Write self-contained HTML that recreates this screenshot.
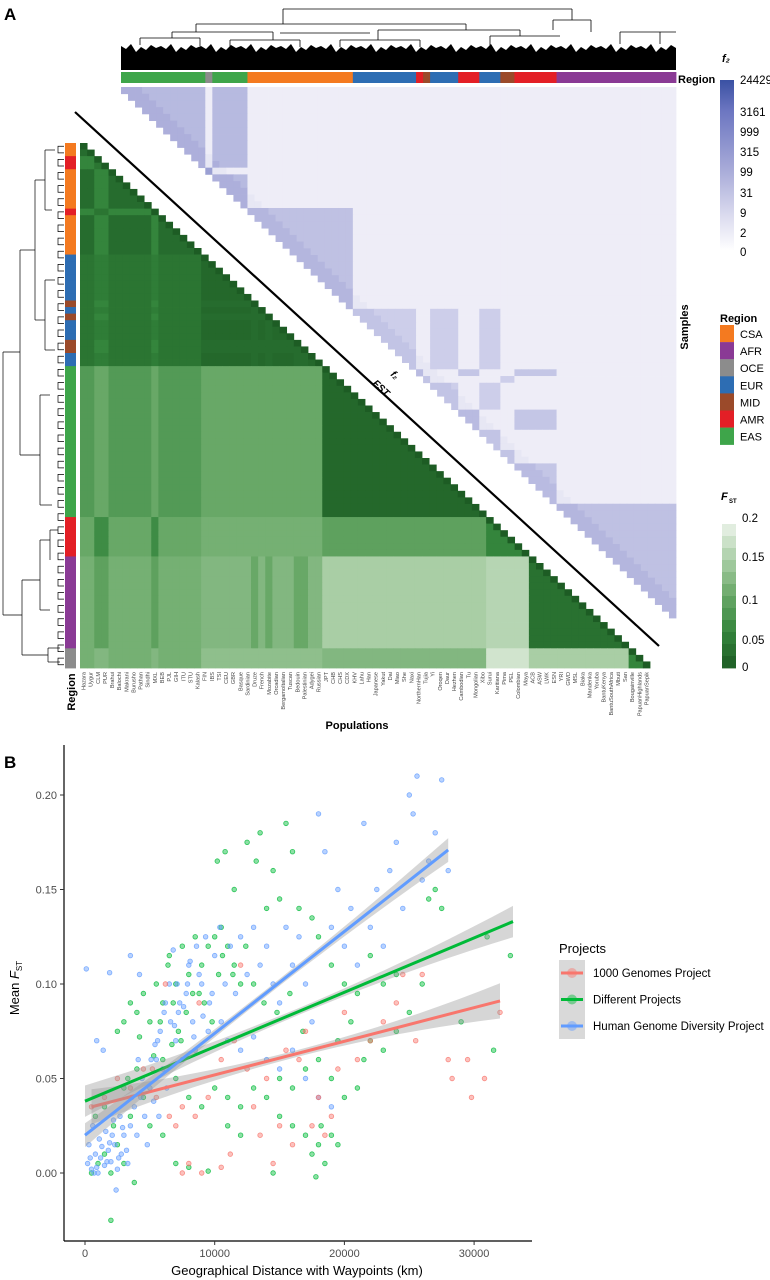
<!DOCTYPE html>
<html><head><meta charset="utf-8">
<style>
html,body{margin:0;padding:0;background:#fff;}
svg{display:block;font-family:"Liberation Sans",sans-serif;}
.nar{font-family:"Liberation Sans Narrow","Liberation Sans",sans-serif;}
</style></head>
<body>
<svg id="fig" width="770" height="1280" viewBox="0 0 770 1280">
<text x="4" y="20" font-size="17" font-weight="bold">A</text>
<text x="4" y="768" font-size="17" font-weight="bold">B</text>
<g id="gA"></g>
<g id="gB"></g>
</svg>
<script>
// ---------- Panel A data ----------
const pops=["Hazara","Uygur","CLM","PUR","Brahui","Balochi","Makrani","Burusho","Pathan","Sindhi","MXL","BEB","PJL","GIH","ITU","STU","Kalash","FIN","IBS","TSI","CEU","GBR","Basque","Sardinian","Druze","French","Mozabite","Orcadian","BergamoItalian","Tuscan","Bedouin","Palestinian","Adygei","Russian","JPT","CHB","CHS","CDX","KHV","Lahu","Han","Japanese","Yakut","Dai","Miao","She","Naxi","NorthernHan","Tujia","Yi","Oroqen","Daur","Hezhen","Cambodian","Tu","Mongolian","Xibo","Surui","Karitiana","Pima","PEL","Colombian","Maya","ACB","ASW","LWK","ESN","YRI","GWD","MSL","Biaka","Mandenka","Yoruba","BantuKenya","BantuSouthAfrica","Mbuti","San","Bougainville","PapuanHighlands","PapuanSepik"];
const popRegion="CCXXCCCCCCXCCCCCCEEEEEEEMEMEEEMMEESSSSSSSSSSSSSSSSSSSSSSSAAAAAAFFFFFFFFFFFFFFOOO";
const fstCodes=["C","X","E","M","S","A","F","O"];
const fstC=[0.02,0.05,0.03,0.03,0.08,0.10,0.11,0.11];
const fstX=[0.05,0.03,0.04,0.05,0.10,0.06,0.09,0.12];
const fstE=[0.03,0.04,0.015,0.02,0.10,0.11,0.12,0.13];
const fstM=[0.03,0.05,0.02,0.02,0.10,0.11,0.10,0.13];
const fstS=[0.08,0.10,0.10,0.10,0.015,0.09,0.15,0.12];
const fstA=[0.10,0.06,0.11,0.11,0.09,0.05,0.16,0.18];
const fstF=[0.11,0.09,0.12,0.10,0.15,0.16,0.025,0.15];
const fstO=[0.11,0.12,0.13,0.13,0.12,0.18,0.15,0.05];
const fstMatrix=[fstC,fstX,fstE,fstM,fstS,fstA,fstF,fstO];
const topSegRegion=["S","O","S","C","E","A","M","E","A","E","M","A","F"];
const topSegCount=[12,1,5,15,9,1,1,4,3,3,2,6,17];
const f2Within={S:0.42,O:0.5,C:0.38,E:0.3,A:0.35,M:0.3,F:0.38,X:0.3};
const f2Between=0.05;
const regionNames=["CSA","AFR","OCE","EUR","MID","AMR","EAS"];
const f2Ticks=["24429","3161","999","315","99","31","9","2","0"];
const fstTicks=["0.2","0.15","0.1","0.05","0"];

// ---------- Panel B data ----------
const blueX=[0.2,0.5,0.8,1.0,1.2,1.5,1.8,2.0,2.3,2.5,2.8,3.0,0.3,0.6,1.1,1.6,2.2,2.7,3.2,3.5,3.8,4.0,4.3,4.6,5.0,5.3,3.3,0.1,1.9,0.9,1.4,2.4,3.5,4.2,5.5,5.8,6.0,6.2,6.5,6.8,7.0,7.2,7.5,7.8,8.0,8.3,8.6,9.0,9.3,9.6,10.0,10.4,10.8,11.2,11.6,12.0,12.5,13.0,13.5,14.0,14.5,15.0,15.5,16.0,16.5,17.0,17.5,18.0,18.5,19.0,19.5,20.0,20.5,21.0,21.5,22.0,22.5,23.0,23.5,24.0,24.5,25.0,25.3,25.6,26.0,26.5,27.0,27.5,28.0,14.0,15.0,16.0,17.0,18.0,19.0,13.0,12.0,11.0,6.3,5.7,4.8,8.5,9.5,10.5,0.4,0.7,1.3,1.7,2.1,2.6,0.9,1.9,2.9,3.6,4.4,5.1,5.6,6.6,7.3,7.9,8.8,9.8,6.1,7.1,8.1,6.9,7.6,8.4,9.1,5.4,4.1];
const blueY=[0.005,0.002,0.010,0.000,0.008,0.004,0.012,0.006,0.015,0.002,0.010,0.020,0.015,0.025,0.018,0.022,0.028,0.030,0.012,0.025,0.035,0.020,0.040,0.030,0.045,0.038,0.005,0.108,0.106,0.070,0.065,-0.009,0.115,0.105,0.060,0.075,0.055,0.090,0.100,0.118,0.070,0.085,0.060,0.095,0.110,0.080,0.120,0.100,0.125,0.090,0.115,0.130,0.100,0.120,0.095,0.125,0.105,0.130,0.110,0.120,0.100,0.090,0.130,0.110,0.125,0.100,0.080,0.190,0.170,0.130,0.150,0.120,0.140,0.110,0.185,0.130,0.150,0.120,0.160,0.175,0.140,0.200,0.190,0.210,0.155,0.165,0.180,0.208,0.160,0.060,0.055,0.065,0.050,0.040,0.035,0.072,0.065,0.070,0.045,0.030,0.015,0.065,0.075,0.080,0.008,0.000,0.014,0.006,0.020,0.008,0.003,0.016,0.024,0.040,0.050,0.060,0.070,0.080,0.090,0.100,0.105,0.095,0.085,0.100,0.112,0.078,0.088,0.072,0.083,0.068,0.060];
const greenX=[0.5,1.0,1.5,2.0,2.5,3.0,0.8,1.5,2.2,3.0,3.5,4.0,4.5,2.0,3.8,2.5,3.0,3.5,4.0,4.5,5.0,5.5,6.0,6.5,7.0,7.5,8.0,8.5,9.0,9.5,10.0,10.5,11.0,11.5,12.0,10.2,10.8,11.5,12.5,13.2,13.5,14.5,15.5,16.0,14.0,15.0,16.5,17.5,18.0,19.0,20.0,21.0,22.0,23.0,24.0,25.0,26.0,26.5,27.0,27.5,31.0,32.8,31.5,29.0,6.0,7.0,8.0,9.0,10.0,11.0,12.0,13.0,14.0,15.0,16.0,17.0,18.0,19.0,20.0,21.0,22.0,23.0,24.0,17.0,17.5,18.0,18.5,19.0,19.5,18.2,17.8,16.0,15.0,14.5,12.0,11.0,7.0,8.0,9.5,6.0,5.0,13.0,13.8,14.8,15.8,16.8,19.5,20.5,21.5,6.8,7.8,8.8,9.8,10.6,11.4,12.4,5.8,6.4,7.4,7.2,8.3,9.2,10.3,6.7,5.3,4.2,3.3];
const greenY=[0.000,0.005,0.010,0.000,0.015,0.005,0.030,0.035,0.025,0.045,0.030,0.055,0.040,-0.025,-0.005,0.075,0.080,0.090,0.085,0.095,0.080,0.100,0.090,0.115,0.100,0.120,0.105,0.125,0.110,0.120,0.125,0.130,0.120,0.110,0.100,0.165,0.170,0.150,0.175,0.165,0.180,0.160,0.185,0.170,0.140,0.145,0.140,0.135,0.125,0.110,0.100,0.095,0.115,0.100,0.105,0.085,0.100,0.145,0.150,0.140,0.125,0.115,0.065,0.080,0.060,0.050,0.040,0.035,0.045,0.040,0.035,0.045,0.040,0.050,0.045,0.055,0.060,0.050,0.040,0.045,0.070,0.065,0.075,0.020,0.010,0.015,0.005,0.020,0.015,0.025,-0.002,0.025,0.030,0.000,0.020,0.025,0.005,0.003,0.001,0.020,0.025,0.100,0.090,0.085,0.095,0.075,0.070,0.080,0.060,0.090,0.085,0.095,0.080,0.115,0.105,0.120,0.080,0.110,0.070,0.075,0.095,0.090,0.105,0.068,0.062,0.072,0.050];
const redX=[0.5,1.5,2.5,3.5,4.5,5.5,6.5,7.0,7.5,8.5,9.5,10.5,11.5,12.5,13.0,13.5,14.0,15.0,15.5,16.5,17.0,18.0,18.5,19.0,19.5,20.0,21.0,22.0,23.0,24.0,24.5,26.0,25.5,28.0,28.3,29.5,30.8,29.8,32.0,7.5,8.0,9.0,10.5,11.2,14.5,16.0,17.5,8.8,12.0,5.2,6.2];
const redY=[0.035,0.040,0.050,0.045,0.055,0.040,0.030,0.025,0.035,0.030,0.040,0.060,0.070,0.055,0.035,0.020,0.050,0.025,0.065,0.060,0.075,0.040,0.020,0.030,0.055,0.085,0.060,0.070,0.080,0.090,0.105,0.105,0.070,0.060,0.050,0.060,0.050,0.040,0.085,0.000,0.005,0.000,0.003,0.010,0.005,0.015,0.025,0.090,0.110,0.055,0.100];
const seriesNames=["1000 Genomes Project","Different Projects","Human Genome Diversity Project"];
const fitIntercept=[0.0341,0.038,0.020];
const fitSlope=[0.00178,0.00288,0.00539];
const fitFrom=[0.5,0.0,0.0];
const fitTo=[32.0,33.0,28.0];
const yTicks=[0,0.05,0.10,0.15,0.20];
const yTickLabels=["0.00","0.05","0.10","0.15","0.20"];
const xTicks=[0,10000,20000,30000];
const xTickLabels=["0","10000","20000","30000"];

// ---------- helpers ----------
const NS="http://www.w3.org/2000/svg";
function el(tag,attrs,parent){const e=document.createElementNS(NS,tag);for(const k in attrs)e.setAttribute(k,attrs[k]);parent.appendChild(e);return e;}
function hex(c){return [parseInt(c.slice(1,3),16),parseInt(c.slice(3,5),16),parseInt(c.slice(5,7),16)];}
function lerpCol(stops,t){t=Math.max(0,Math.min(1,t));const n=stops.length-1;const p=t*n;const i=Math.min(n-1,Math.floor(p));const f=p-i;const a=hex(stops[i]),b=hex(stops[i+1]);return "rgb("+a.map((v,k)=>Math.round(v+(b[k]-v)*f)).join(",")+")";}
const regColor={C:"#f47a20",X:"#e31f26",E:"#2d6db3",M:"#9b4a2a",S:"#3ea54a",A:"#e31f26",F:"#8a3a95",O:"#8c8c8c"};
const legColor=["#f47a20","#8a3a95","#8c8c8c","#2d6db3","#9b4a2a","#e31f26","#3ea54a"];
const greenStops=["#1d5c24","#34853c","#68a867","#a9cea5","#ecf3ea"];
const purpleStops=["#f4f3f9","#d6d7ee","#a9acd9","#6f78c2","#3a51a3"];

const gA=document.getElementById("gA");
// ---- green FST heatmap ----
const hmX0=80,hmY0=143,hmW=570,hmH=525,N=pops.length;
const cw=hmW/N,ch=hmH/N;
const gG=el("g",{},gA);


for(let i=0;i<N;i++){for(let j=0;j<=i;j++){
  const a=fstCodes.indexOf(popRegion[i]),b=fstCodes.indexOf(popRegion[j]);
  const v=(i===j)?0:fstMatrix[a][b];
  const r=el("rect",{x:(hmX0+j*cw).toFixed(2),y:(hmY0+i*ch).toFixed(2),width:(cw+0.4).toFixed(2),height:(ch+0.4).toFixed(2),fill:lerpCol(greenStops,v/0.2)},gG);
  
  
}}
// left region bar
for(let i=0;i<N;i++){
  const r=el("rect",{x:65,y:(hmY0+i*ch).toFixed(2),width:11,height:(ch+0.4).toFixed(2),fill:regColor[popRegion[i]]},gA);
  
  
}
// column labels
for(let j=0;j<N;j++){
  const x=hmX0+(j+0.5)*cw+2;
  const t=el("text",{x:x,y:672,"font-size":"5.6",fill:"#444","text-anchor":"end",transform:"rotate(-90 "+x+" 672)"},gA);
  t.textContent=pops[j];
  
  
}
// ---- purple f2 heatmap ----
const pX0=121,pY0=87,pW=555,pH=531;
let topCodes=[];topSegRegion.forEach((r,k)=>{for(let c=0;c<topSegCount[k];c++)topCodes.push(r);});
const M2=topCodes.length,pw=pW/M2,ph=pH/M2;
const gP=el("g",{},gA);


for(let i=0;i<M2;i++){for(let j=i;j<M2;j++){
  let v=(topCodes[i]===topCodes[j])?f2Within[topCodes[i]]:f2Between;
  const d=j-i;if(d<3)v+=0.06;
  const r=el("rect",{x:(pX0+j*pw).toFixed(2),y:(pY0+i*ph).toFixed(2),width:(pw+0.4).toFixed(2),height:(ph+0.4).toFixed(2),fill:lerpCol(purpleStops,v)},gP);
  
  
}}
// top region bar
let cx=pX0;
topSegRegion.forEach((r,k)=>{const w=topSegCount[k]*pw;
  const s=el("rect",{x:cx.toFixed(2),y:72,width:(w+0.4).toFixed(2),height:11,fill:regColor[r]},gA);
  
  
  cx+=w;});
// diagonal separator
const dl=el("line",{x1:75,y1:112,x2:659,y2:646,stroke:"#000","stroke-width":2.2},gA);


const tf2=el("text",{x:390,y:375,"font-size":"10","font-style":"italic","font-weight":"bold",transform:"rotate(43 390 375)"},gA);
tf2.textContent="f₂";


const tfs=el("text",{x:372,y:384,"font-size":"10","font-style":"italic","font-weight":"bold",transform:"rotate(43 372 384)"},gA);
tfs.textContent="FST";



// ---- top dendrogram ----
const gD=el("g",{stroke:"#000","stroke-width":"0.8",fill:"none"},gA);


let ptsTop="121,70 ";
for(let k=0;k<=111;k++){const x=121+k*5;const h=[46,49,44,52,47,50,45,48][k%8];ptsTop+=x+","+h+" ";}
ptsTop+="676,70";
el("polygon",{points:ptsTop,fill:"#000",stroke:"none"},gD);
const topLines=[[283,9,572,9],[283,9,283,24],[572,9,572,20],[196,24,466,24],[196,24,196,32],[466,24,466,30],[553,20,591,20],[553,20,553,30],[591,20,591,32],[172,32,273,32],[172,32,172,38],[273,32,273,40],[378,30,520,30],[378,30,378,40],[520,30,520,36],[140,38,200,38],[140,38,140,45],[200,38,200,46],[490,36,560,36],[490,36,490,46],[620,32,676,32],[620,32,620,44],[660,32,660,44],[340,40,420,40],[340,40,340,47],[420,40,420,47],[230,40,300,40],[230,40,230,47],[300,40,300,47],[280,33,370,33]];
topLines.forEach(l=>el("line",{x1:l[0],y1:l[1],x2:l[2],y2:l[3]},gD));
// ---- left dendrogram ----
const gL=el("g",{stroke:"#000","stroke-width":"0.7",fill:"none"},gA);


const leftLines=[[3,352,3,615],[3,352,20,352],[3,615,22,615],[20,250,20,455],[20,250,35,250],[20,455,40,455],[35,180,35,320],[35,180,45,180],[35,320,45,320],[45,150,45,210],[45,150,55,150],[45,210,52,210],[45,280,45,350],[45,280,55,280],[45,350,55,350],[40,395,40,505],[40,395,50,395],[40,505,52,505],[22,580,22,655],[22,580,40,580],[22,655,48,655],[40,540,40,610],[40,540,50,540],[40,610,50,610],[48,648,48,662],[48,648,60,648],[48,662,60,662],[50,530,50,560],[50,530,58,530]];
leftLines.forEach(l=>el("line",{x1:l[0],y1:l[1],x2:l[2],y2:l[3]},gL));
for(let i=0;i<N-1;i+=2){const y1=hmY0+(i+0.5)*ch,y2=hmY0+(i+1.5)*ch;
  el("polyline",{points:"64,"+y1+" 58,"+y1+" 58,"+y2+" 64,"+y2},gL);}

// ---- f2 colorbar ----
const defs=el("defs",{},gA);
const lg=el("linearGradient",{id:"f2g",x1:0,y1:0,x2:0,y2:1},defs);
[["0","#3a51a3"],["0.18","#6c76c1"],["0.52","#a7aad8"],["0.8","#dcdcef"],["1","#ffffff"]].forEach(s=>el("stop",{offset:s[0],"stop-color":s[1]},lg));
const cb=el("rect",{x:720,y:80,width:14,height:171,fill:"url(#f2g)"},gA);


const f2TickY=[80,112,132,152,172,193,213,233,252];
f2Ticks.forEach((t,k)=>{const e=el("text",{x:740,y:f2TickY[k]+4,"font-size":"11.5",class:"nar"},gA);e.textContent=t;
  
  });
const f2t=el("text",{x:722,y:62,"font-size":"11","font-style":"italic","font-weight":"bold"},gA);f2t.textContent="f₂";


const rt=el("text",{x:678,y:83,"font-size":"11","font-weight":"bold",class:"nar"},gA);rt.textContent="Region";


const st=el("text",{x:688,y:327,"font-size":"11","font-weight":"bold","text-anchor":"middle",transform:"rotate(-90 688 327)"},gA);st.textContent="Samples";


const rlt=el("text",{x:720,y:322,"font-size":"11","font-weight":"bold"},gA);rlt.textContent="Region";


regionNames.forEach((n,k)=>{
  const y=325+k*17.1;
  const s=el("rect",{x:720,y:y,width:14,height:17.3,fill:legColor[k]},gA);
  
  
  const t=el("text",{x:740,y:y+13,"font-size":"11"},gA);t.textContent=n;
  
  
});
for(let b=0;b<12;b++){const v=(11.5-b)/12;
  const r=el("rect",{x:722,y:(524+b*12).toFixed(1),width:14,height:12.4,fill:lerpCol(greenStops,v)},gA);
  
  }
const fstTickY=[518,557,600,640,667];
fstTicks.forEach((t,k)=>{const e=el("text",{x:742,y:fstTickY[k]+4,"font-size":"11.5"},gA);e.textContent=t;
  
  });
const ft=el("text",{x:721,y:500,"font-size":"11","font-style":"italic","font-weight":"bold"},gA);ft.textContent="F";


const fts=el("text",{x:729,y:503,"font-size":"6","font-weight":"bold"},gA);fts.textContent="ST";


const rr=el("text",{x:75,y:692,"font-size":"11","font-weight":"bold","text-anchor":"middle",transform:"rotate(-90 75 692)"},gA);rr.textContent="Region";


const pt=el("text",{x:357,y:729,"font-size":"11","font-weight":"bold","text-anchor":"middle",class:"nar"},gA);pt.textContent="Populations";



// ---------- Panel B ----------
const gB=document.getElementById("gB");
const X0=85,XK=0.01297;
const Y0=1173,YK=1890;
function sx(km){return X0+km*XK;}
function sy(v){return Y0-v*YK;}
const cols=["#F8766D","#00BA38","#619CFF"];
const ax=el("g",{},gB);


const yl=el("line",{x1:64,y1:745,x2:64,y2:1241,stroke:"#000","stroke-width":1.2},ax);


const xl=el("line",{x1:64,y1:1241,x2:532,y2:1241,stroke:"#000","stroke-width":1.2},ax);


yTicks.forEach((v,k)=>{const y=sy(v);
  el("line",{x1:60,y1:y,x2:64,y2:y,stroke:"#333"},ax);
  const t=el("text",{x:57,y:y+4,"font-size":"11","text-anchor":"end",fill:"#4d4d4d",class:"nar"},ax);t.textContent=yTickLabels[k];
  
  });
xTicks.forEach((v,k)=>{const x=sx(v);
  el("line",{x1:x,y1:1241,x2:x,y2:1245,stroke:"#333"},ax);
  const t=el("text",{x:x,y:1257,"font-size":"11","text-anchor":"middle",fill:"#4d4d4d",class:"nar"},ax);t.textContent=xTickLabels[k];
  
  });
const xt=el("text",{x:297,y:1275,"font-size":"13","text-anchor":"middle",class:"nar"},ax);xt.textContent="Geographical Distance with Waypoints (km)";


const yt=el("text",{x:0,y:0,"font-size":"13","text-anchor":"middle",transform:"translate(19 988) rotate(-90)"},ax);
yt.innerHTML='Mean <tspan font-style="italic">F</tspan><tspan font-size="8" dy="3">ST</tspan>';



const allX=[redX,greenX,blueX],allY=[redY,greenY,blueY];
const order=[1,2,0];
order.forEach(s=>{
  const g=el("g",{},gB);
  
  
  allX[s].forEach((x,k)=>{
    const c=el("circle",{cx:sx(x*1000).toFixed(1),cy:sy(allY[s][k]).toFixed(1),r:2.3,fill:cols[s],"fill-opacity":0.45,stroke:cols[s],"stroke-opacity":0.8,"stroke-width":0.8},g);
    
    
  });
});
[0,1,2].forEach(s=>{
  const a=fitFrom[s],b=fitTo[s],m=(a+b)/2,half=(b-a)/2;
  const up=[],dn=[];
  const amp=[0.0075,0.0065,0.0045][s];
  for(let k=0;k<=20;k++){const x=a+(b-a)*k/20;const f=fitIntercept[s]+fitSlope[s]*x;
    const w=0.0018+amp*Math.pow((x-m)/half,2);
    up.push(sx(x*1000).toFixed(1)+","+sy(f+w).toFixed(1));dn.unshift(sx(x*1000).toFixed(1)+","+sy(f-w).toFixed(1));}
  const band=el("polygon",{points:up.concat(dn).join(" "),fill:"#999","fill-opacity":0.4},gB);
  
  
  const ln=el("line",{x1:sx(a*1000),y1:sy(fitIntercept[s]+fitSlope[s]*a),x2:sx(b*1000),y2:sy(fitIntercept[s]+fitSlope[s]*b),stroke:cols[s],"stroke-width":3},gB);
  
  
});
const lgG=el("g",{},gB);


const lt=el("text",{x:559,y:953,"font-size":"13",class:"nar"},lgG);lt.textContent="Projects";


el("rect",{x:559,y:960,width:26,height:79,fill:"#d9d9d9"},lgG);
seriesNames.forEach((n,s)=>{const y=973+s*26.5;
  const e=el("g",{},lgG);
  
  
  el("circle",{cx:572,cy:y,r:5,fill:cols[s],"fill-opacity":0.45},e);
  el("line",{x1:561,y1:y,x2:583,y2:y,stroke:cols[s],"stroke-width":3},e);
  const t=el("text",{x:593,y:y+4,"font-size":"11.5",class:"nar"},e);t.textContent=n;
  
  
});
</script>
</body></html>
